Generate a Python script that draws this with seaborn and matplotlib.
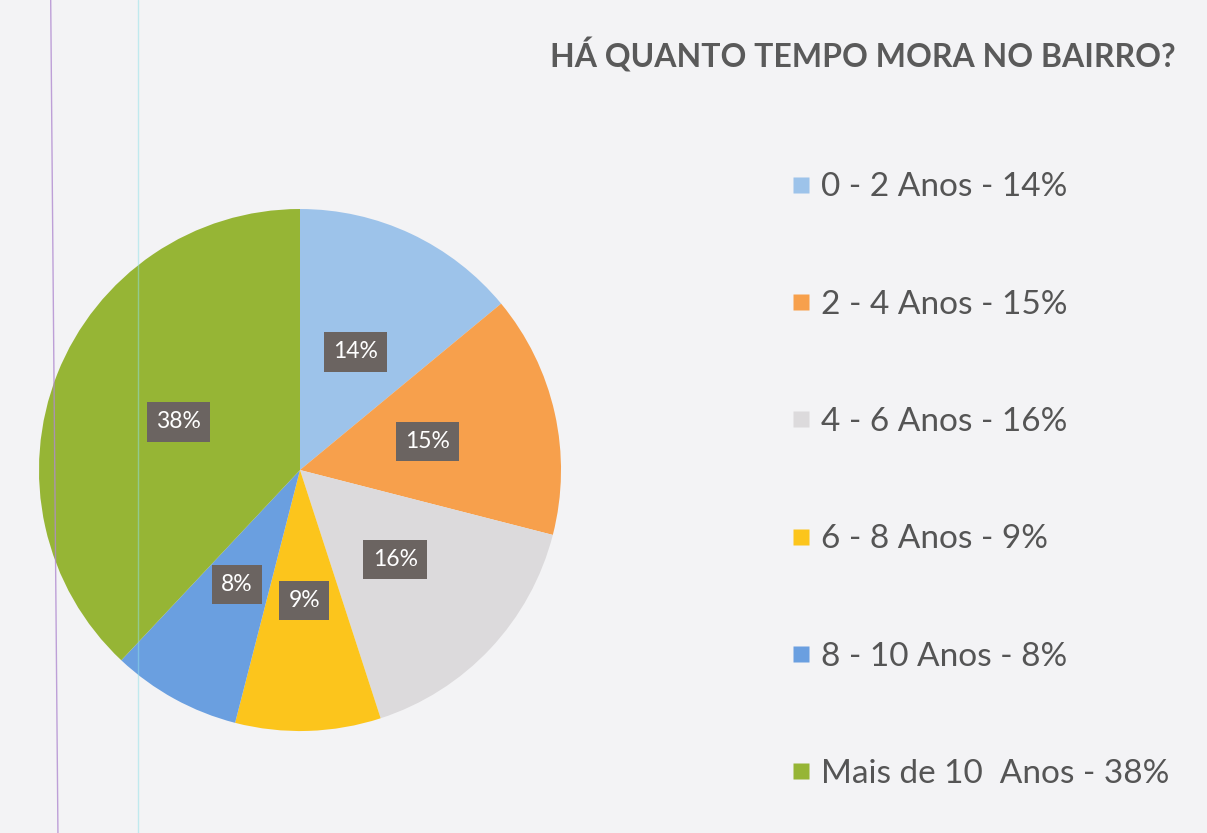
import matplotlib
matplotlib.use('Agg')
import matplotlib.pyplot as plt
import seaborn as sns
from matplotlib.lines import Line2D

sns.set_theme(style='white')
plt.rcParams['font.family'] = ['Lato', 'DejaVu Sans']

# data
categories = ['0 - 2 Anos', '2 - 4 Anos', '4 - 6 Anos', '6 - 8 Anos', '8 - 10 Anos', 'Mais de 10  Anos']
values = [14, 15, 16, 9, 8, 38]
colors = ['#9dc3ea', '#f7a04c', '#dcdadc', '#fcc51c', '#6a9fe0', '#96b535']
title = 'HÁ QUANTO TEMPO MORA NO BAIRRO?'

bg = '#f3f3f5'
fig = plt.figure(figsize=(12.07, 8.33), dpi=100, facecolor=bg)
ax = fig.add_axes([0.0323, 0.1224, 0.4325, 0.6267])
ax.set_facecolor(bg)

wedges, texts, autotexts = ax.pie(values, colors=colors, startangle=90, counterclock=False,
                                  autopct='%d%%', pctdistance=0.5, radius=1,
                                  wedgeprops=dict(linewidth=0))
for t in autotexts:
    t.set_color('white')
    t.set_fontsize(16.5)
    t.set_bbox(dict(boxstyle='square,pad=0.4', facecolor='#6b6461', edgecolor='none'))
ax.set_xlim(-1, 1)
ax.set_ylim(-1, 1)
ax.axis('off')

fig.text(0.7146, 0.934, title, ha='center', va='center', fontsize=23, fontweight='bold', color='#5a5a5a')

handles = [Line2D([0], [0], marker='s', linestyle='none', markersize=12,
                  markerfacecolor=c, markeredgecolor='none') for c in colors]
labels = [f'{c} - {v}%' for c, v in zip(categories, values)]
leg = fig.legend(handles, labels, loc='upper left', bbox_to_anchor=(0.644, 0.809),
                 frameon=False, fontsize=24, labelspacing=2.62, handlelength=0.6,
                 handletextpad=0.3, borderaxespad=0)
for t in leg.get_texts():
    t.set_color('#555555')

# faint scan lines
fig.add_artist(Line2D([0.042, 0.048], [1, 0], color='#b08ad0', linewidth=1, alpha=0.8))
fig.add_artist(Line2D([0.1143, 0.1143], [1, 0], color='#8fe0e8', linewidth=1, alpha=0.5))

fig.savefig('out.png', dpi=100, facecolor=bg)
